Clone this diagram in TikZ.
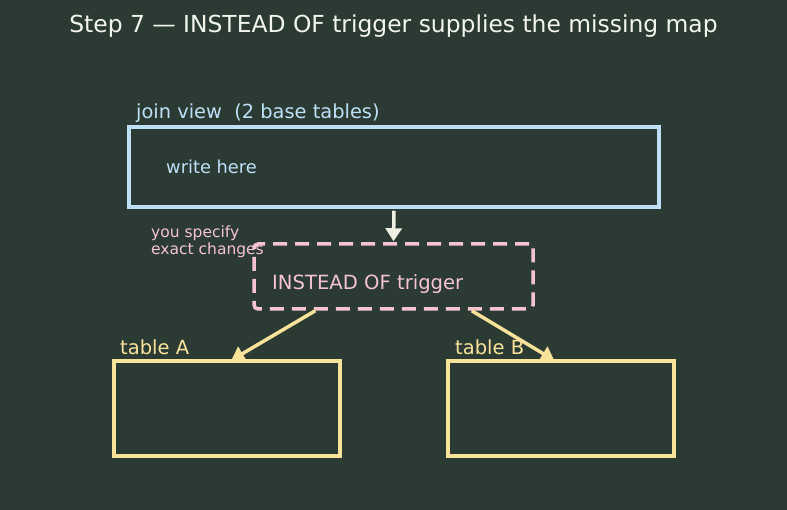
\documentclass[tikz,border=0pt]{standalone}
\usepackage{fontspec}
\setmainfont{DejaVu Sans}
\usetikzlibrary{arrows.meta,calc}
\definecolor{bg}{HTML}{2B3B34}
\definecolor{titlec}{HTML}{F2F5EC}
\definecolor{viewc}{HTML}{BEE0F6}
\definecolor{pinkc}{HTML}{F5C3D2}
\definecolor{yelc}{HTML}{F9E39A}
\definecolor{arrc}{HTML}{EEF1E2}
\tikzset{
  box/.style={draw, line width=3.5pt, rectangle, inner sep=0pt},
  lbl/.style={anchor=west, inner sep=0pt},
  conn/.style={line width=3.5pt, -{Triangle[length=13pt,width=16pt]}},
}
\begin{document}
\begin{tikzpicture}[x=1pt,y=-1pt]
\fill[bg] (0,0) rectangle (787,510);
\useasboundingbox (0,0) rectangle (787,510);
\node[inner sep=0pt, text=titlec, font=\fontsize{23.4}{27}\selectfont] (title) at (393.5,26) {Step 7 — INSTEAD OF trigger supplies the missing map};
% join view
\node[box, draw=viewc, minimum width=530pt, minimum height=80pt] (view) at (394,167) {};
\node[lbl, text=viewc, font=\fontsize{19.4}{22}\selectfont] (viewl) at (136,113) {join view\ \ (2 base tables)};
\node[lbl, text=viewc, font=\fontsize{17.8}{20}\selectfont] (write) at (166,167) {write here};
% trigger
\node[box, draw=pinkc, dash pattern=on 14pt off 8pt, rounded corners=4pt, minimum width=279pt, minimum height=65pt] (trig) at (393.5,276.5) {};
\node[lbl, text=pinkc, font=\fontsize{19.6}{22}\selectfont] (trigl) at (272,284.5) {INSTEAD OF trigger};
\node[lbl, text=pinkc, font=\fontsize{15.5}{17}\selectfont, align=left] (spec) at (151,242) {you specify\\exact changes};
% tables
\node[box, draw=yelc, minimum width=226pt, minimum height=95pt] (ta) at (227,408.5) {};
\node[box, draw=yelc, minimum width=226pt, minimum height=95pt] (tb) at (561,408.5) {};
\node[lbl, text=yelc, font=\fontsize{19.5}{22}\selectfont] (tal) at (120,347) {table A};
\node[lbl, text=yelc, font=\fontsize{19.5}{22}\selectfont] (tbl) at (455,347) {table B};
% arrows
\draw[conn, draw=arrc, fill=arrc] ([yshift=-2pt]view.south) -- ([yshift=1pt]trig.north);
\draw[conn, draw=yelc, fill=yelc] ([xshift=63pt]trig.south west) -- ([xshift=119pt,yshift=-1pt]ta.north west);
\draw[conn, draw=yelc, fill=yelc] ([xshift=-63pt]trig.south east) -- ([xshift=108pt,yshift=-1pt]tb.north west);
\end{tikzpicture}
\end{document}
